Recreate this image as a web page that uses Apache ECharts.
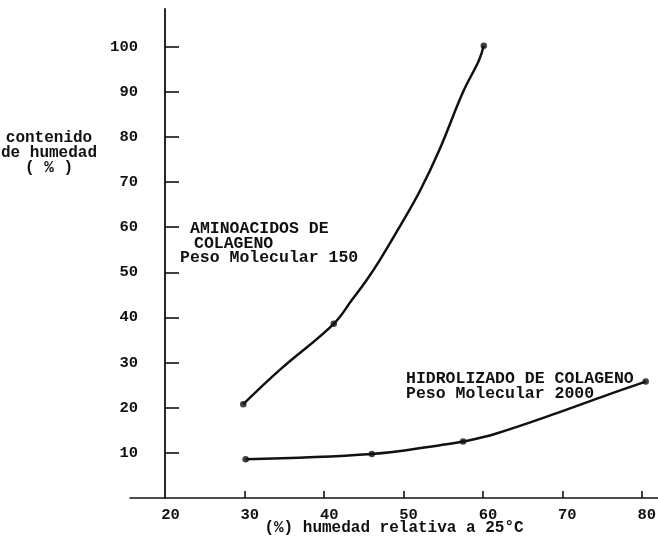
<!DOCTYPE html>
<html>
<head>
<meta charset="utf-8">
<script src="https://cdn.jsdelivr.net/npm/echarts@6/dist/echarts.min.js"></script>
<style>
html,body{margin:0;padding:0;background:#fff;}
#chart{width:658px;height:536px;}
</style>
</head>
<body>
<div id="chart"></div>
<script>
// Tick labels
const xTickLabels = [20, 30, 40, 50, 60, 70, 80];
const xTickMarks = [30, 40, 50, 60, 70, 80];
const yTickLabels = [10, 20, 30, 40, 50, 60, 70, 80, 90, 100];

// Aminoacidos de colageno (PM 150): curve
const aminoCurve = [[29.8,20.8],[34.4,28.4],[41.2,38.6],[43.5,43.9],[45.35,48.3],[47.0,52.7],[49.5,60.1],[52.1,68.2],[54.5,77.1],[57.5,90.0],[59.5,97.0],[60.1,100.2]];
const aminoPoints = [[29.8,20.8],[41.2,38.6],[60.1,100.2]];

// Hidrolizado de colageno (PM 2000)
const hidroCurve = [[30.1,8.6],[46.0,9.75],[54.6,11.7],[57.5,12.5],[61.7,14.3],[69.3,18.8],[75.6,22.8],[80.5,25.8]];
const hidroPoints = [[30.1,8.6],[46.0,9.75],[57.5,12.5],[80.5,25.8]];

const FONT = '"Liberation Mono", "DejaVu Sans Mono", monospace';
const INK = '#111';

const chart = echarts.init(document.getElementById('chart'), null, {renderer:'canvas'});
chart.setOption({
  backgroundColor: '#fff',
  animation: false,
  grid: {left: 130, right: 0, top: 9, bottom: 38, containLabel: false, outerBoundsMode: 'none'},
  xAxis: {
    type: 'value', min: 15.53, max: 82.05,
    splitLine: {show: false},
    axisLine: {show: true, lineStyle: {color: INK, width: 1.6}},
    axisTick: {show: true, inside: true, length: 7, customValues: xTickMarks, lineStyle: {color: INK, width: 1.6}},
    axisLabel: {customValues: xTickLabels, color: INK, fontFamily: FONT, fontWeight: 'bold', fontSize: 15.5, margin: 9, padding: [0,0,0,10]},
    name: '(%) humedad relativa a 25°C',
    nameLocation: 'middle', nameGap: 22, nameMoveOverlap: false,
    nameTextStyle: {color: INK, fontFamily: FONT, fontWeight: 'bold', fontSize: 16}
  },
  yAxis: {
    type: 'value', min: 0, max: 108.35,
    position: 'left', offset: -35,
    splitLine: {show: false},
    axisLine: {show: true, lineStyle: {color: INK, width: 1.8}},
    axisTick: {show: true, inside: true, length: 14, customValues: yTickLabels, lineStyle: {color: INK, width: 1.6}},
    axisLabel: {customValues: yTickLabels, color: INK, fontFamily: FONT, fontWeight: 'bold', fontSize: 15.5, margin: 27}
  },
  series: [
    {type: 'line', data: aminoCurve, smooth: 0.4, showSymbol: false, symbol: 'none',
     lineStyle: {color: INK, width: 2.5}},
    {type: 'line', data: hidroCurve, smooth: 0.4, showSymbol: false, symbol: 'none',
     lineStyle: {color: INK, width: 2.5}},
    {type: 'scatter', data: aminoPoints.concat(hidroPoints), symbol: 'circle', symbolSize: 6.5,
     itemStyle: {color: INK}}
  ],
  graphic: [
    {type: 'text', x: 49, y: 130, style: {text: 'contenido\nde humedad\n( % )', align: 'center', verticalAlign: 'top', fill: INK, font: 'bold 16px ' + FONT, lineHeight: 15}},
    {type: 'text', left: 190, top: 220, style: {text: 'AMINOACIDOS DE', fill: INK, font: 'bold 16.5px ' + FONT}},
    {type: 'text', left: 194, top: 235, style: {text: 'COLAGENO', fill: INK, font: 'bold 16.5px ' + FONT}},
    {type: 'text', left: 180, top: 249, style: {text: 'Peso Molecular 150', fill: INK, font: 'bold 16.5px ' + FONT}},
    {type: 'text', left: 406, top: 370, style: {text: 'HIDROLIZADO DE COLAGENO', fill: INK, font: 'bold 16.5px ' + FONT}},
    {type: 'text', left: 406, top: 385, style: {text: 'Peso Molecular 2000', fill: INK, font: 'bold 16.5px ' + FONT}}
  ]
});
</script>
</body>
</html>
